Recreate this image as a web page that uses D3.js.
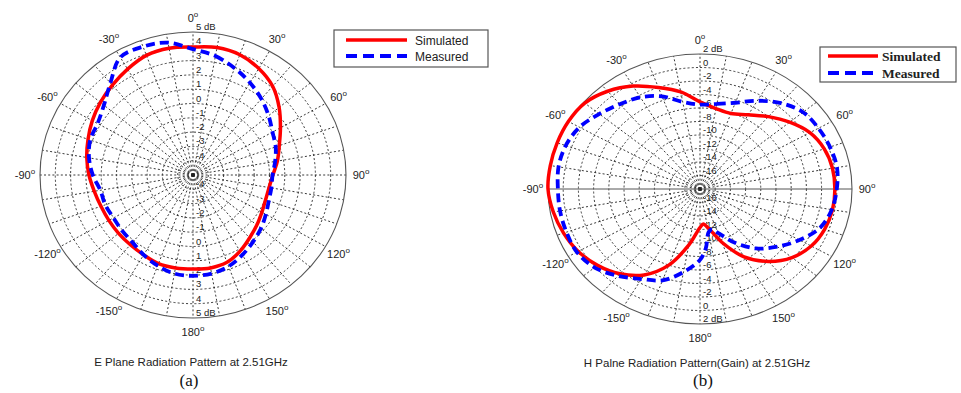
<!DOCTYPE html>
<html><head><meta charset="utf-8">
<script src="https://cdn.jsdelivr.net/npm/d3@7"></script>
<style>body{margin:0;background:#fff}svg{display:block}</style>
</head><body><svg id="c" width="961" height="393"></svg>
<script>
// ---------- data ----------
const anglesA = d3.range(0, 360, 10);
const simulatedA = [3.95,4.05,3.95,3.6,3.1,2.35,1.6,1.0,0.6,0.22,0.05,0.05,0.2,0.45,0.75,1.15,1.5,1.6,1.57,1.6,1.6,1.45,1.37,1.35,1.35,1.4,1.55,1.8,2.05,2.3,2.6,2.9,3.2,3.55,3.9,4.0];
const measuredA  = [3.8,3.45,2.95,2.45,1.95,1.45,1.0,0.75,0.45,0.2,0.2,0.27,0.5,0.8,1.1,1.45,1.8,2.0,2.05,2.0,1.75,1.45,1.15,1.05,1.0,1.1,1.15,1.55,1.9,2.15,2.2,2.6,3.4,4.5,4.55,4.4];
const ringTicksA = [-4,-3,-2,-1,0,1,2,3,4,5];
const ringLabelsA = ["-4","-3","-2","-1","0","1","2","3","4","5 dB"];

const anglesB = [0,10,20,30,40,50,60,70,80,90,100,110,120,130,140,150,160,165,170,175,180,190,200,210,220,230,240,250,260,270,280,290,300,310,320,330,340,350];
const simulatedB = [-5.1,-5.9,-6.1,-5.3,-4.0,-2.6,-1.3,-0.6,-0.3,-0.25,-0.3,-0.55,-1.1,-2.2,-4.0,-6.4,-9.6,-11.2,-12.2,-12.8,-12.3,-9.6,-6.0,-3.3,-1.6,-0.4,0.5,1.1,1.6,2.0,2.0,2.0,2.0,1.8,0.9,-0.4,-2.0,-3.4];
const measuredB  = [-5.5,-5.2,-4.4,-2.9,-1.4,-0.3,0.0,0.2,0.3,0.0,-0.4,-1.2,-2.9,-4.7,-6.5,-8.8,-11.1,-11.8,-11.5,-9.2,-7.5,-5.5,-3.6,-2.6,-1.2,0.1,0.7,0.7,0.7,0.7,0.9,0.8,0.3,-0.7,-1.6,-2.3,-3.4,-4.9];
const ringTicksB = [-16,-14,-12,-10,-8,-6,-4,-2,0,2];
const ringLabelsB = ["-16","-14","-12","-10","-8","-6","-4","-2","0","2 dB"];

const angleTicks = [0,30,60,90,120,150,180,210,240,270,300,330];
const angleTickLabels = ["0","30","60","90","120","150","180","-150","-120","-90","-60","-30"];
const seriesNames = ["Simulated","Measured"];
const titleA = "E Plane Radiation Pattern at 2.51GHz";
const titleB = "H Palne Radiation Pattern(Gain) at 2.51GHz";
const panelLabels = ["(a)","(b)"];

// ---------- drawing ----------
const svg = d3.select("#c");
const angle = d3.scaleLinear().domain([0, 360]).range([0, 2 * Math.PI]);

function drawPolar(o) {
  const g = svg.append("g");
  const r = d3.scaleLinear().domain(o.domain).range([0, 1]);
  const px = (t, v) => o.cx + o.rx * r(v) * Math.sin(angle(t));
  const py = (t, v) => o.cy - o.ry * r(v) * Math.cos(angle(t));
  const dot = "2,2.2";
  g.selectAll("ellipse.ring").data(o.rings.slice(0, -1)).join("ellipse")
    .attr("cx", o.cx).attr("cy", o.cy)
    .attr("rx", d => o.rx * r(d)).attr("ry", d => o.ry * r(d))
    .attr("fill", "none").attr("stroke", "#222").attr("stroke-width", 0.9)
    .attr("stroke-dasharray", dot);
  g.selectAll("line.spoke").data(d3.range(0, 360, 10)).join("line")
    .attr("x1", o.cx).attr("y1", o.cy)
    .attr("x2", d => px(d, o.domain[1])).attr("y2", d => py(d, o.domain[1]))
    .attr("stroke", d => (o.solidH && (d === 90 || d === 270)) ? "#555" : "#222")
    .attr("stroke-width", d => (o.solidH && (d === 90 || d === 270)) ? 1 : 0.9)
    .attr("stroke-dasharray", d => (o.solidH && (d === 90 || d === 270)) ? null : dot);
  g.append("ellipse").attr("cx", o.cx).attr("cy", o.cy).attr("rx", o.rx).attr("ry", o.ry)
    .attr("fill", "none").attr("stroke", "#555").attr("stroke-width", 1.1);
  [0, 180].forEach(t => {
    g.selectAll(null).data(o.rings).join("text")
      .attr("x", o.cx + 3)
      .attr("y", d => py(t, d) - 2)
      .attr("font-family", "Liberation Sans, Arial, sans-serif")
      .attr("font-size", 9.5).attr("fill", "#222")
      .text((d, i) => o.ringLabels[i]);
  });
  const lab = g.selectAll(null).data(angleTicks).join("text")
    .attr("x", d => o.cx + (o.rx + 15) * Math.sin(angle(d)))
    .attr("y", d => o.cy - (o.ry + 14) * Math.cos(angle(d)) + 4)
    .attr("text-anchor", "middle")
    .attr("font-family", "Liberation Sans, Arial, sans-serif")
    .attr("font-size", 11).attr("fill", "#222");
  lab.append("tspan").text((d, i) => angleTickLabels[i]);
  lab.append("tspan").attr("dy", -5).attr("font-size", 8).text("o");
  const line = d3.line().curve(d3.curveCatmullRomClosed.alpha(0.5));
  const pts = vals => o.angles.map((t, i) => [px(t, vals[i]), py(t, vals[i])]);
  g.append("path").attr("d", line(pts(o.sim)))
    .attr("fill", "none").attr("stroke", "#ff0000").attr("stroke-width", 3.5)
    .attr("stroke-linejoin", "round");
  g.append("path").attr("d", line(pts(o.meas)))
    .attr("fill", "none").attr("stroke", "#0000ff").attr("stroke-width", 3.8)
    .attr("stroke-dasharray", "9,5");
}

drawPolar({cx: 193, cy: 175, rx: 153, ry: 143, domain: [-5, 5], rings: ringTicksA,
  ringLabels: ringLabelsA, angles: anglesA, sim: simulatedA, meas: measuredA, solidH: false});
drawPolar({cx: 700, cy: 189, rx: 152, ry: 135, domain: [-18, 2], rings: ringTicksB,
  ringLabels: ringLabelsB, angles: anglesB, sim: simulatedB, meas: measuredB, solidH: true});

function legend(o) {
  const g = svg.append("g");
  g.append("rect").attr("x", o.x).attr("y", o.y).attr("width", o.w).attr("height", o.h)
    .attr("fill", "#fff").attr("stroke", "#555").attr("stroke-width", 1.2);
  seriesNames.forEach((name, i) => {
    const y = o.y + o.y0 + i * o.dy;
    g.append("line").attr("x1", o.x + o.l0).attr("x2", o.x + o.l1).attr("y1", y).attr("y2", y)
      .attr("stroke", i ? "#0000ff" : "#ff0000").attr("stroke-width", i ? 4 : 3.5)
      .attr("stroke-dasharray", i ? "11,6" : null);
    g.append("text").attr("x", o.x + o.tx).attr("y", y + 4.5)
      .attr("font-family", o.font).attr("font-size", o.fs).attr("font-weight", o.fw)
      .attr("fill", "#222").text(name);
  });
}
legend({x: 334, y: 30, w: 154, h: 37, y0: 10, dy: 16, l0: 12, l1: 73, tx: 81,
  font: "Liberation Sans, Arial, sans-serif", fs: 12, fw: "normal"});
legend({x: 820, y: 47, w: 136, h: 35, y0: 9, dy: 17, l0: 8, l1: 58, tx: 62,
  font: "Liberation Serif, Times New Roman, serif", fs: 13.5, fw: "bold"});

svg.append("text").attr("x", 191).attr("y", 366).attr("text-anchor", "middle")
  .attr("font-family", "Liberation Sans, Arial, sans-serif").attr("font-size", 11.5)
  .attr("fill", "#222").text(titleA);
svg.append("text").attr("x", 697).attr("y", 367).attr("text-anchor", "middle")
  .attr("font-family", "Liberation Sans, Arial, sans-serif").attr("font-size", 11.5)
  .attr("fill", "#222").text(titleB);
svg.append("text").attr("x", 189).attr("y", 386).attr("text-anchor", "middle")
  .attr("font-family", "Liberation Serif, Times New Roman, serif").attr("font-size", 17)
  .attr("fill", "#111").text(panelLabels[0]);
svg.append("text").attr("x", 703).attr("y", 386).attr("text-anchor", "middle")
  .attr("font-family", "Liberation Serif, Times New Roman, serif").attr("font-size", 17)
  .attr("fill", "#111").text(panelLabels[1]);
</script></body></html>
